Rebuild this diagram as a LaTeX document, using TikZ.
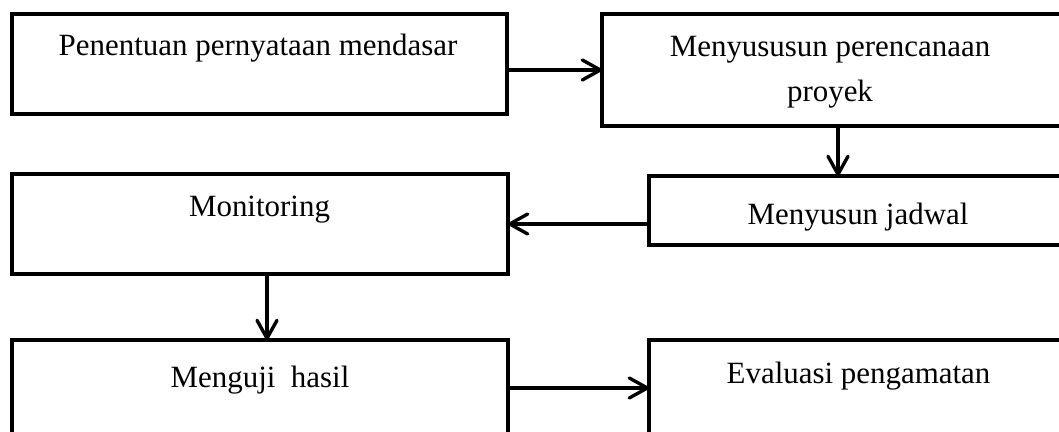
\documentclass[tikz,border=0pt]{standalone}
\usepackage{fontspec}
\setmainfont{Liberation Serif}
\usetikzlibrary{arrows.meta,positioning}

\newcommand{\px}{0.025cm}

\begin{document}
\begin{tikzpicture}[
    x=\px, y=-\px,
    box/.style={draw, line width=2.6pt, inner sep=0pt, outer sep=0pt},
    txt/.style={anchor=base, inner sep=0pt, align=center,
      font=\fontsize{22}{32}\selectfont},
    arrow/.style={line width=2.4pt,
      -{Straight Barb[length=4.5mm, width=5mm, round]}}
  ]
  % page frame
  \useasboundingbox (0,0) rectangle (1059,432);
  \clip (0,0) rectangle (1059,432);

  % boxes
  \node[box, minimum width=495*\px, minimum height=100*\px] (statement) at (259.5,64) {};
  \node[box, minimum width=460*\px, minimum height=112*\px] (plan) at (832,70) {};
  \node[box, minimum width=419*\px, minimum height=69*\px] (sched) at (858.5,210.5) {};
  \node[box, minimum width=496*\px, minimum height=100*\px] (monitor) at (260,224) {};
  \node[box, minimum width=496*\px, minimum height=96*\px] (test) at (260,388) {};
  \node[box, minimum width=419*\px, minimum height=96*\px] (eval) at (858.5,388) {};

  % texts (base = baseline of the last line)
  \node[txt] (statement-text) at (258,56) {Penentuan pernyataan mendasar};
  \node[txt] (plan-text) at (830,102) {Menyususun perencanaan\\proyek};
  \node[txt] (sched-text) at (858,225) {Menyusun jadwal};
  \node[txt] (monitor-text) at (259.5,217) {Monitoring};
  \node[txt] (test-text) at (260,387.5) {Menguji\ \ hasil};
  \node[txt] (eval-text) at (858.5,384) {Evaluasi pengamatan};

  % arrows
  \draw[arrow] (statement.east |- plan.west) -- (plan.west);
  \draw[arrow] ([xshift=1.5mm]plan.south) -- ([xshift=1.5mm]plan.south |- sched.north);
  \draw[arrow] (sched.west |- monitor.east) -- (monitor.east);
  \draw[arrow] ([xshift=1.75mm]monitor.south) -- ([xshift=1.75mm]monitor.south |- test.north);
  \draw[arrow] (test.east) -- (eval.west);
\end{tikzpicture}
\end{document}
